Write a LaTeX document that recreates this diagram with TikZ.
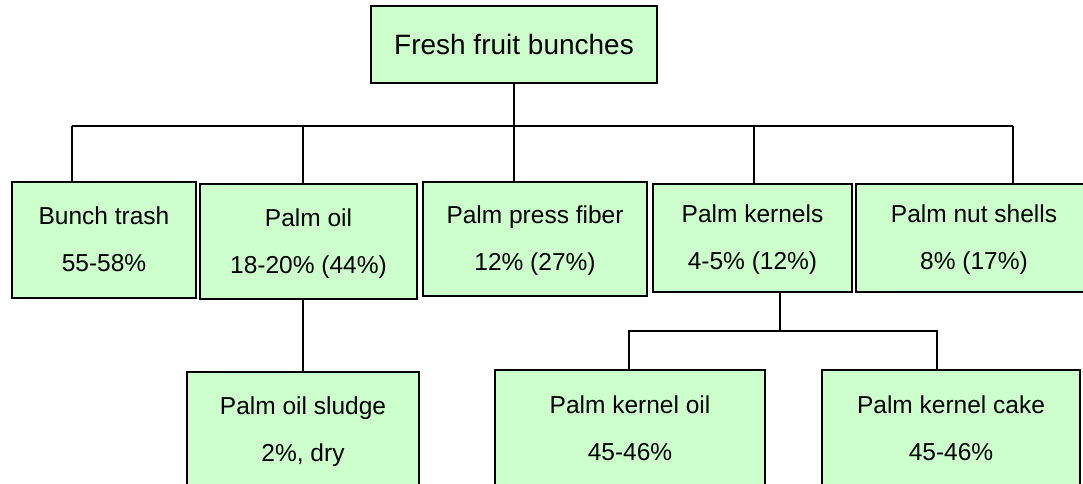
\documentclass[tikz,border=0pt]{standalone}
\usepackage{fontspec}
\setmainfont{Liberation Sans}
\definecolor{boxgreen}{HTML}{CCFFCC}
\newcommand{\toprule}{\rule{0pt}{22pt}}
\newcommand{\botrule}{\rule[-6pt]{0pt}{6pt}}
\begin{document}
\begin{tikzpicture}[x=1pt,y=-1pt,
  box/.style={draw=black, fill=boxgreen, line width=1.6pt, inner sep=0pt,
    align=center, font=\fontsize{24.5}{47}\selectfont},
  conn/.style={line width=1.6pt, draw=black}]
\useasboundingbox (0,0) rectangle (1083,484);
\clip (0,0) rectangle (1083,484);

% boxes
\node[box, minimum width=286pt, minimum height=77pt, font=\fontsize{28}{34}\selectfont]
  (top) at (514,44.5) {Fresh fruit bunches};
\node[box, minimum width=184pt, minimum height=116pt] (bunch) at (104,240)
  {\toprule Bunch trash\\55-58\%\botrule};
\node[box, minimum width=217pt, minimum height=115pt] (palmoil) at (308.5,241.5)
  {\toprule Palm oil\\18-20\% (44\%)\botrule};
\node[box, minimum width=224pt, minimum height=114pt] (fiber) at (535,239)
  {\toprule Palm press fiber\\12\% (27\%)\botrule};
\node[box, minimum width=199pt, minimum height=108pt] (kernels) at (752.5,238)
  {\toprule Palm kernels\\4-5\% (12\%)\botrule};
\node[box, minimum width=236pt, minimum height=108pt] (shells) at (974,238)
  {\toprule Palm nut shells\\8\% (17\%)\botrule};
\node[box, minimum width=232pt, minimum height=115pt] (sludge) at (303,429.5)
  {\toprule Palm oil sludge\\2\%, dry\botrule};
\node[box, minimum width=270pt, minimum height=117pt] (koil) at (630,428.5)
  {\toprule Palm kernel oil\\45-46\%\botrule};
\node[box, minimum width=258pt, minimum height=117pt] (cake) at (951,428.5)
  {\toprule Palm kernel cake\\45-46\%\botrule};

% junctions
\coordinate (hub) at (514,126);
\coordinate (dB) at (72,126);
\coordinate (dO) at (303,126);
\coordinate (dK) at (754,126);
\coordinate (dS) at (1013,126);
\coordinate (kj) at (780,331);
\coordinate (kl) at (629,331);
\coordinate (kr) at (937,331);

% connectors
\draw[conn] (top.south -| hub) -- (hub) -- (hub |- fiber.north);
\draw[conn] (dB) -- (dS);
\draw[conn] (dB) -- (dB |- bunch.north);
\draw[conn] (dO) -- (dO |- palmoil.north);
\draw[conn] (dK) -- (dK |- kernels.north);
\draw[conn] (dS) -- (dS |- shells.north);
\draw[conn] (dO |- palmoil.south) -- (dO |- sludge.north);
\draw[conn] (kj |- kernels.south) -- (kj);
\draw[conn] (kl |- koil.north) -- (kl) -- (kr) -- (kr |- cake.north);
\end{tikzpicture}
\end{document}
